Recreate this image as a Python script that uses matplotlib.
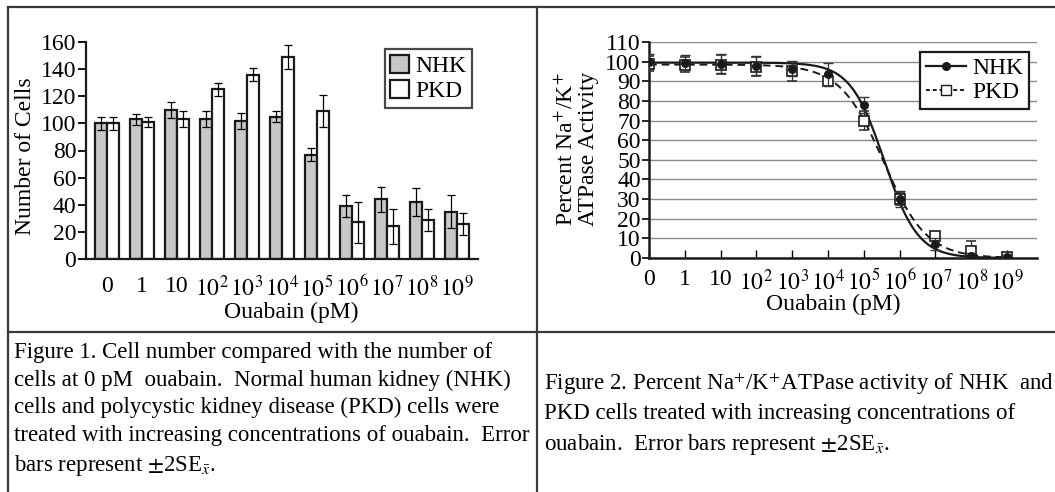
import numpy as np
import matplotlib
matplotlib.use("Agg")
import matplotlib.pyplot as plt
from matplotlib.lines import Line2D

plt.rcParams['font.family'] = ['Liberation Serif', 'DejaVu Serif']
plt.rcParams['mathtext.fontset'] = 'stix'

# ---------------- data ----------------
conc_labels = ['0', '1', '10', '$10^2$', '$10^3$', '$10^4$', '$10^5$',
               '$10^6$', '$10^7$', '$10^8$', '$10^9$']

# Figure 1: number of cells
nhk_cells = [100, 103, 110, 103, 102, 105, 77, 39, 44, 42, 35]
nhk_cells_err = [5, 4, 6, 6, 6, 4, 5, 8, 9, 10, 12]
pkd_cells = [100, 101, 103, 125, 136, 149, 109, 27, 24, 29, 26]
pkd_cells_err = [5, 4, 6, 5, 5, 9, 12, 15, 13, 8, 8]

# Figure 2: percent Na+/K+ ATPase activity
nhk_act = [100, 99.5, 99, 98, 96.5, 93.5, 78, 30, 7, 1, 0.5]
nhk_act_err = [4, 4, 5, 5, 4, 6, 4, 4, 3, 1.5, 1]
pkd_act = [99, 98.5, 98.5, 97.5, 95, 90, 70, 30, 11, 3.5, 0.5]
pkd_act_err = [4, 4, 5, 5, 5, 2, 5, 3, 2, 5, 1]

# fitted dose-response curves (top, bottom, midpoint in category units, slope)
nhk_fit = dict(top=99.5, bottom=0.0, mid=6.57, slope=0.92)
pkd_fit = dict(top=98.5, bottom=0.0, mid=6.55, slope=0.72)

caption1 = ("Figure 1. Cell number compared with the number of\n"
            "cells at 0 pM  ouabain.  Normal human kidney (NHK)\n"
            "cells and polycystic kidney disease (PKD) cells were\n"
            "treated with increasing concentrations of ouabain.  Error\n"
            r"bars represent $\pm$2SE$_{\bar{x}}$.")
caption2 = (r"Figure 2. Percent Na$^{+}$/K$^{+}$ATPase activity of NHK  and" "\n"
            "PKD cells treated with increasing concentrations of\n"
            r"ouabain.  Error bars represent $\pm$2SE$_{\bar{x}}$.")

# ---------------- figure ----------------
W, H = 1055, 492
fig = plt.figure(figsize=(W / 100, H / 100), dpi=100)
fig.patch.set_facecolor('white')

def px_axes(x0, y_top, x1, y_bot):
    return fig.add_axes([x0 / W, (H - y_bot) / H, (x1 - x0) / W, (y_bot - y_top) / H])

FS = 17
x = np.arange(len(conc_labels))

# ----- left chart -----
ax1 = px_axes(86, 42, 478, 259)
bw = 0.34
err_kw = dict(ecolor='black', elinewidth=0.9, capsize=3.2, capthick=0.9)
ax1.bar(x - bw / 2, nhk_cells, bw, color='#c8c8c8', edgecolor='#1a1a1a',
        linewidth=1.6, yerr=nhk_cells_err, error_kw=err_kw, label='NHK', zorder=2)
ax1.bar(x + bw / 2, pkd_cells, bw, color='white', edgecolor='#1a1a1a',
        linewidth=1.6, yerr=pkd_cells_err, error_kw=err_kw, label='PKD', zorder=2)
ax1.set_xlim(-0.6, 10.6)
ax1.set_ylim(0, 160)
ax1.set_yticks(np.arange(0, 161, 20))
ax1.set_xticks(x)
ax1.set_xticklabels(conc_labels)
for s in ['top', 'right']:
    ax1.spines[s].set_visible(False)
for s in ['left', 'bottom']:
    ax1.spines[s].set_linewidth(1.6)
    ax1.spines[s].set_color('#1a1a1a')
ax1.tick_params(axis='y', direction='out', length=6, width=1.3, labelsize=FS, pad=1)
ax1.tick_params(axis='x', length=0, labelsize=FS, pad=12)
ax1.set_ylabel('Number of Cells', fontsize=FS)
ax1.yaxis.set_label_coords(-0.128, 0.475)
ax1.set_xlabel('Ouabain (pM)', fontsize=FS)
ax1.xaxis.set_label_coords(0.523, -0.245)
ax1.xaxis.label.set_va('center')
leg1 = ax1.legend(loc='upper right', bbox_to_anchor=(0.985, 0.967), fontsize=FS,
                  frameon=True, fancybox=False, edgecolor='#1a1a1a',
                  handlelength=0.8, handleheight=0.8, handletextpad=0.25,
                  borderpad=0.25, labelspacing=0.1, borderaxespad=0)
leg1.get_frame().set_linewidth(1.6)
ax1.patch.set_alpha(0)

# ----- right chart -----
ax2 = px_axes(649, 42, 1037, 258)
ax2.set_xlim(0, 10.84)
ax2.set_ylim(0, 110)
ax2.set_yticks(np.arange(0, 111, 10))
ax2.set_xticks(x)
ax2.set_xticklabels(conc_labels)
ax2.yaxis.grid(True, color='#8a8a8a', linewidth=1.0)
ax2.set_axisbelow(True)
for s in ['top', 'right']:
    ax2.spines[s].set_visible(False)
for s in ['left', 'bottom']:
    ax2.spines[s].set_linewidth(1.8)
    ax2.spines[s].set_color('#1a1a1a')
ax2.tick_params(axis='y', direction='out', length=5, width=1.2, labelsize=FS, pad=1)
ax2.tick_params(axis='x', direction='in', length=6, width=1.0, labelsize=FS, pad=8)

xx = np.linspace(0, 10.1, 400)
def curve(p):
    return p['bottom'] + (p['top'] - p['bottom']) / (1 + 10 ** ((xx - p['mid']) * p['slope']))

ax2.plot(xx, curve(nhk_fit), color='#1a1a1a', lw=1.6, zorder=3)
ax2.plot(xx, curve(pkd_fit), color='#1a1a1a', lw=1.4, ls=(0, (4, 2.5)), zorder=3)
ax2.errorbar(x, pkd_act, yerr=pkd_act_err, fmt='s', ms=7, mfc='white', mec='#1a1a1a',
             mew=1.2, ecolor='#333333', elinewidth=0.9, capsize=3.5, zorder=4)
ax2.errorbar(x, nhk_act, yerr=nhk_act_err, fmt='o', ms=5.5, mfc='#1a1a1a', mec='#1a1a1a',
             ecolor='#333333', elinewidth=0.9, capsize=3.5, zorder=5)
ax2.set_ylabel('Percent Na$^{+}$/K$^{+}$\nATPase Activity', fontsize=FS, linespacing=1.05)
ax2.yaxis.set_label_coords(-0.128, 0.505)
ax2.set_xlabel('Ouabain (pM)', fontsize=FS)
ax2.xaxis.set_label_coords(0.474, -0.213)
ax2.xaxis.label.set_va('center')
handles = [Line2D([], [], color='#1a1a1a', lw=1.6, marker='o', ms=5.5, mfc='#1a1a1a'),
           Line2D([], [], color='#1a1a1a', lw=1.4, ls=(0, (2, 1.5)), marker='s', ms=7,
                  mfc='white', mec='#1a1a1a')]
leg2 = ax2.legend(handles, ['NHK', 'PKD'], loc='upper right', bbox_to_anchor=(0.98, 0.955),
                  fontsize=FS, frameon=True, fancybox=False, edgecolor='#1a1a1a',
                  framealpha=1, handlelength=1.7, handletextpad=0.25, borderpad=0.25,
                  labelspacing=0.1, borderaxespad=0)
leg2.get_frame().set_linewidth(1.6)

# ----- table borders -----
lc = '#3a3a3a'
def hline(y, x0, x1):
    fig.add_artist(Line2D([x0 / W, x1 / W], [(H - y) / H] * 2, color=lc, lw=1.6))
def vline(xp, y0, y1):
    fig.add_artist(Line2D([xp / W] * 2, [(H - y0) / H, (H - y1) / H], color=lc, lw=1.6))
hline(7, 8, W)
hline(332, 8, W)
vline(8, 7, H)
vline(537, 7, H)

# ----- captions -----
fig.text(14 / W, (H - 342) / H, caption1, fontsize=16.5, va='top', ha='left',
         linespacing=1.4, transform=fig.transFigure)
fig.text(544 / W, (H - 371) / H, caption2, fontsize=16.5, va='top', ha='left',
         linespacing=1.4, transform=fig.transFigure)

fig.savefig('out.png', dpi=100, facecolor='white')
